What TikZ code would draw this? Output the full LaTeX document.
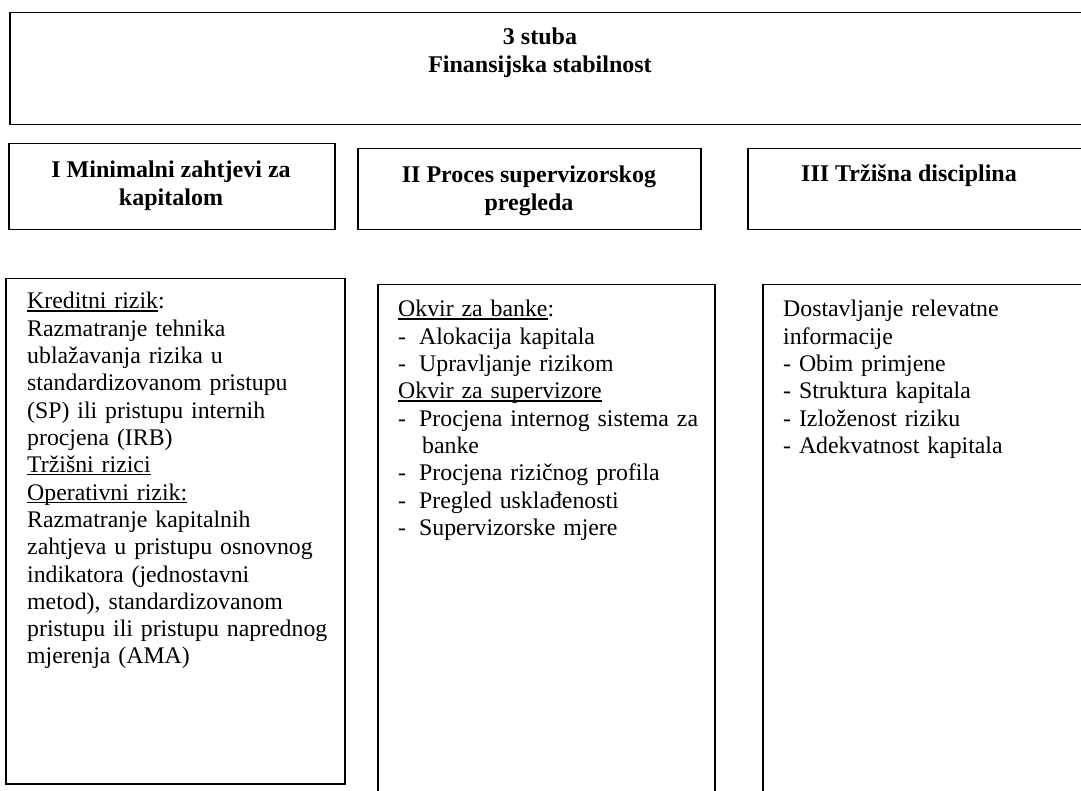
\documentclass[tikz,border=0pt]{standalone}
\usepackage{fontspec}
\setmainfont{Liberation Serif}
\usetikzlibrary{positioning}

\newcommand{\dashitem}{\makebox[21pt][l]{-}}
\newcommand{\undl}[1]{\leavevmode\setbox0\hbox{#1}\rlap{\rule[-2.6pt]{\wd0}{1.2pt}}\box0}

\begin{document}
\begin{tikzpicture}[x=1pt,y=-1pt,
      frame/.style={
         rectangle,
         draw=black,
         line width=1.5pt,
         inner sep=0pt,
         anchor=north west
      },
      head/.style={
         font=\bfseries\fontsize{24}{28}\selectfont,
         align=center,
         inner sep=0pt
      },
      body/.style={
         font=\fontsize{23.8}{27.3}\selectfont,
         text width=330pt,
         align=left,
         inner sep=0pt,
         anchor=base west
      }
    ]
    \useasboundingbox (0,0) rectangle (1081,791);
    \clip (0,0) rectangle (1081,791);
    % frames
    \node (n1) [frame, minimum width=1091pt, minimum height=112pt] at (9,12) {};
    \node (n21) [frame, minimum width=326pt, minimum height=86pt] at (8,143) {};
    \node (n22) [frame, minimum width=343pt, minimum height=81pt] at (357,148) {};
    \node (n23) [frame, minimum width=348pt, minimum height=81pt] at (747,148) {};
    \node (n31) [frame, minimum width=339pt, minimum height=505pt] at (5,278) {};
    \node (n32) [frame, minimum width=337pt, minimum height=530pt] at (377,284) {};
    \node (n33) [frame, minimum width=340pt, minimum height=530pt] at (762,284) {};
    % headings
    \node (h1) [head] at (540,53) {3 stuba\\Finansijska stabilnost};
    \node (h21) [head] at (171,186) {I Minimalni zahtjevi za\\kapitalom};
    \node (h22) [head] at (529,191) {II Proces supervizorskog\\pregleda};
    \node (h23) [head] at (909,176) {III Tržišna disciplina};
    % text
    \node (t31) [body] at ([shift={(22,31)}]n31.north west) {%
\undl{Kreditni rizik}:\\
Razmatranje tehnika\\
ublažavanja rizika u\\
standardizovanom pristupu\\
(SP) ili pristupu internih\\
procjena (IRB)\\
\undl{Tržišni rizici}\\
\undl{Operativni rizik:}\\
Razmatranje kapitalnih\\
zahtjeva u pristupu osnovnog\\
indikatora (jednostavni\\
metod), standardizovanom\\
pristupu ili pristupu naprednog\\
mjerenja (AMA)};
    \node (t32) [body] at ([shift={(21,33)}]n32.north west) {%
\undl{Okvir za banke}:\\
\dashitem Alokacija kapitala\\
\dashitem Upravljanje rizikom\\
\undl{Okvir za supervizore}\\
\dashitem Procjena internog sistema za\\
\hspace*{24pt}banke\\
\dashitem Procjena rizičnog profila\\
\dashitem Pregled usklađenosti\\
\dashitem Supervizorske mjere};
    \node (t33) [body] at ([shift={(21,33)}]n33.north west) {%
Dostavljanje relevatne\\
informacije\\
- Obim primjene\\
- Struktura kapitala\\
- Izloženost riziku\\
- Adekvatnost kapitala};
\end{tikzpicture}
\end{document}
